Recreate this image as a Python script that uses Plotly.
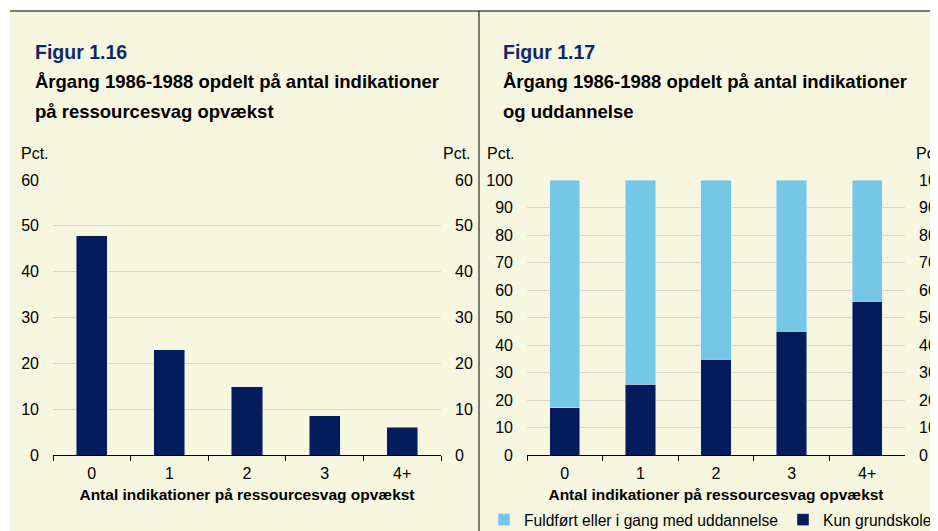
import plotly.graph_objects as go

# page body keeps an 8px margin, so the figure is 8px smaller on each side
OFF = 8
W, H = 938 - OFF, 531 - OFF

# data
categories = ["0", "1", "2", "3", "4+"]
share_left = [47.8, 23.0, 14.9, 8.6, 6.1]
kun_grundskole = [17.2, 25.8, 34.8, 45.0, 55.9]
fuldfoert = [100 - v for v in kun_grundskole]

NAVY = "#041C5B"
LIGHT = "#74C8E6"
BG = "#F7F6E0"
GRID = "#D8D7C8"
FONT = "Liberation Sans, Arial, sans-serif"


def px_x(v):
    return (v - OFF) / W


def px_y(v):
    return 1 - (v - OFF) / H


fig = go.Figure()

fig.add_trace(go.Bar(x=categories, y=share_left, marker_color=NAVY, width=0.4,
                     showlegend=False, xaxis="x", yaxis="y"))
fig.add_trace(go.Bar(x=categories, y=kun_grundskole, name="Kun grundskole",
                     marker_color=NAVY, width=0.4, xaxis="x3", yaxis="y3"))
fig.add_trace(go.Bar(x=categories, y=fuldfoert, name="Fuldført eller i gang med uddannelse",
                     marker_color=LIGHT, width=0.4, xaxis="x3", yaxis="y3"))
# invisible traces to show right-hand axes
fig.add_trace(go.Scatter(x=categories, y=share_left, mode="none", showlegend=False,
                         hoverinfo="skip", xaxis="x", yaxis="y2"))
fig.add_trace(go.Scatter(x=categories, y=kun_grundskole, mode="none", showlegend=False,
                         hoverinfo="skip", xaxis="x3", yaxis="y4"))

tickfont = dict(family=FONT, size=16, color="#000000")
xtitle = dict(text="<b>Antal indikationer på ressourcesvag opvækst</b>",
              font=dict(family=FONT, size=15.5, color="#000000"), standoff=7)

ydom = [px_y(455), px_y(180)]
common_y = dict(domain=ydom, showgrid=True, gridcolor=GRID, gridwidth=1, zeroline=False,
                tickfont=tickfont, ticks="", showline=False, ticklabelstandoff=13,
                fixedrange=True, automargin=False)
common_x = dict(type="category", showline=True, linecolor="#000000", linewidth=1,
                ticks="outside", ticklen=5, tickcolor="#000000", tickson="boundaries",
                tickfont=tickfont, title=xtitle, showgrid=False, automargin=False,
                ticklabelstandoff=4)
right_y = dict(overlaying=None, side="right", domain=ydom, showgrid=False, zeroline=False,
               tickfont=tickfont, ticklabelstandoff=13, fixedrange=True, automargin=False)

fig.update_layout(
    width=W, height=H,
    margin=dict(l=0, r=0, t=0, b=0, autoexpand=False),
    paper_bgcolor="white",
    plot_bgcolor=BG,
    barmode="stack",
    bargap=0.6,
    font=dict(family=FONT, size=16, color="#000000"),
    xaxis=dict(domain=[px_x(53), px_x(441)], anchor="y", **common_x),
    yaxis=dict(range=[0, 60], dtick=10, anchor="x", **common_y),
    yaxis2=dict(right_y, range=[0, 60], dtick=10, overlaying="y", anchor="x"),
    xaxis3=dict(domain=[px_x(527), px_x(905)], anchor="y3", **common_x),
    yaxis3=dict(range=[0, 100], dtick=10, anchor="x3", **common_y),
    yaxis4=dict(right_y, range=[0, 100], dtick=10, overlaying="y3", anchor="x3"),
    legend=dict(orientation="h", x=px_x(484), y=-6 / H, xanchor="left", yanchor="bottom",
                traceorder="reversed", font=dict(family=FONT, size=15.6, color="#000000"),
                bgcolor="rgba(0,0,0,0)", itemwidth=30, tracegroupgap=0),
    shapes=[
        dict(type="rect", xref="paper", yref="paper", x0=px_x(10), x1=1, y0=0, y1=px_y(11),
             fillcolor=BG, line=dict(width=0), layer="below"),
        dict(type="line", xref="paper", yref="paper", x0=px_x(10), x1=1, y0=px_y(11), y1=px_y(11),
             line=dict(color="#000000", width=1)),
        dict(type="line", xref="paper", yref="paper", x0=px_x(479), x1=px_x(479), y0=0, y1=px_y(11),
             line=dict(color="#000000", width=1)),
    ],
)

ann = []


def text(x, y, s, size=16, color="#000000", anchor="left"):
    ann.append(dict(xref="paper", yref="paper", x=px_x(x), y=px_y(y), text=s, showarrow=False,
                    xanchor=anchor, yanchor="middle",
                    font=dict(family=FONT, size=size, color=color)))


text(33, 52, "<b>Figur 1.16</b>", 19.5, "#12276B")
text(33, 82, "<b>Årgang 1986-1988 opdelt på antal indikationer</b>", 18.5)
text(33, 111, "<b>på ressourcesvag opvækst</b>", 18.5)
text(501, 52, "<b>Figur 1.17</b>", 19.5, "#12276B")
text(501, 82, "<b>Årgang 1986-1988 opdelt på antal indikationer</b>", 18.5)
text(501, 111, "<b>og uddannelse</b>", 18.5)
text(19, 153, "Pct.")
text(441, 153, "Pct.")
text(485, 153, "Pct.")
text(914, 153, "Pct.")
fig.update_layout(annotations=ann)

fig.write_html("out.html")
